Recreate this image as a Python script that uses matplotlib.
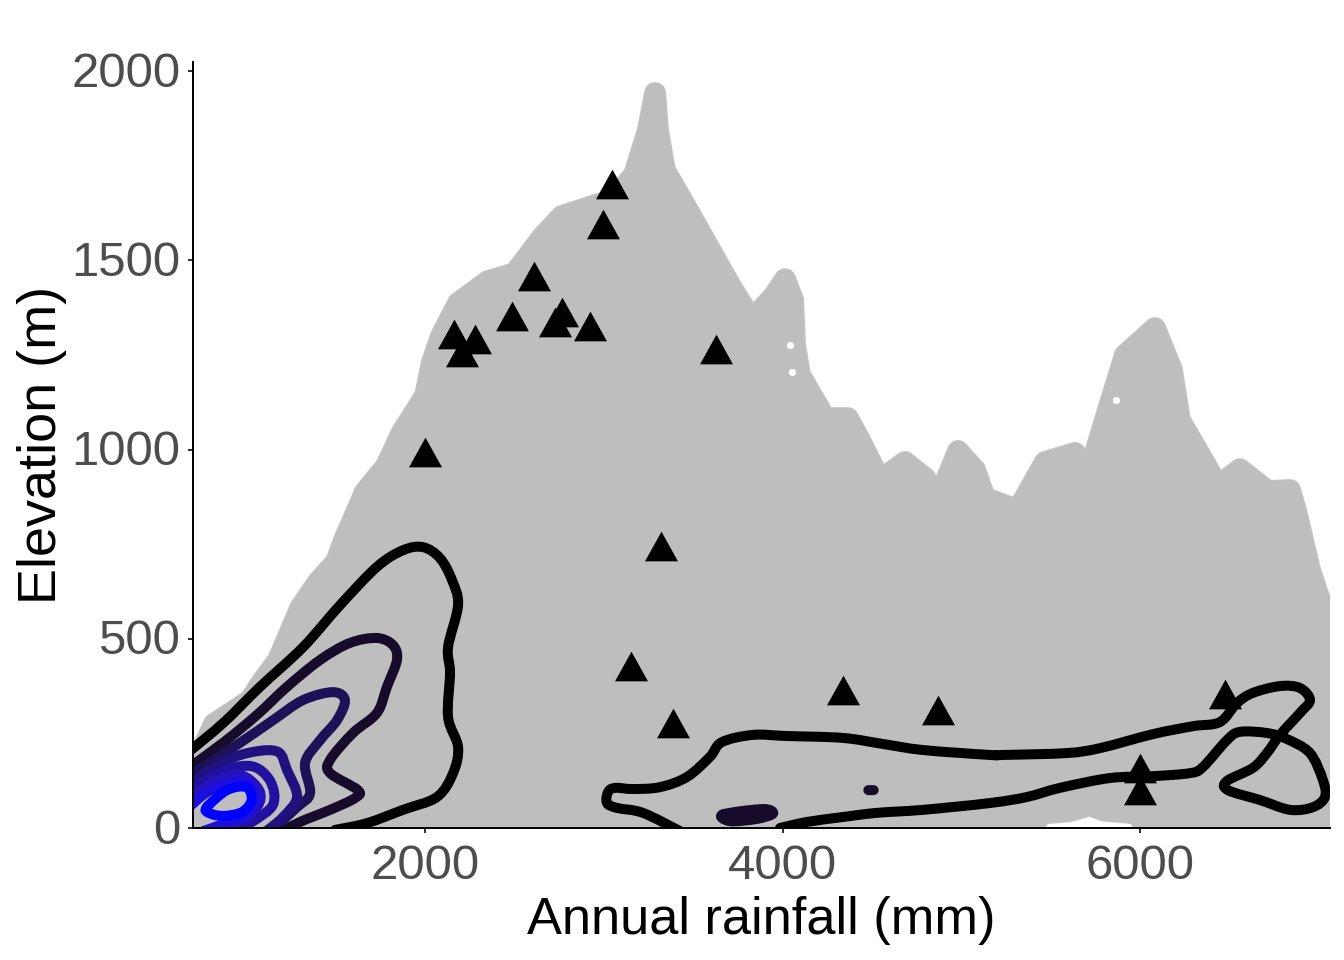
import matplotlib
matplotlib.use("Agg")
import matplotlib.pyplot as plt
from matplotlib.path import Path
from matplotlib.patches import PathPatch
from matplotlib.transforms import ScaledTranslation

plt.rcParams['font.family'] = ['Liberation Sans', 'DejaVu Sans']

# Outline of the outermost grey points (point centres): rainfall, elevation
cloud_rain = [462, 820, 920, 1021, 1088, 1178, 1245, 1301, 1401, 1502, 1552, 1664, 1782, 1871, 2000,
              2039, 2090, 2185, 2352, 2503, 2660, 2766, 2934, 3046, 3169, 3247, 3287, 3303, 3342,
              3454, 3566, 3706, 3829, 3952, 4014, 4059, 4070, 4098, 4238, 4366, 4433, 4545, 4685,
              4797, 4870, 4982, 5077, 5133, 5317, 5468, 5636, 5720, 5804, 5916, 6084, 6179, 6223,
              6436, 6559, 6716, 6839, 6872, 6951, 7007, 7146, 7146, 6084, 5990, 5800, 5720, 5600, 5440, 5356]
cloud_elev = [-85, 275, 306, 338, 386, 444, 518, 581, 650, 703, 766, 888, 956, 1046, 1141,
              1231, 1300, 1387, 1445, 1466, 1564, 1617, 1643, 1659, 1725, 1844, 1942, 1844, 1738,
              1646, 1553, 1435, 1342, 1406, 1450, 1395, 1276, 1197, 1083, 1083, 1025, 919, 967,
              925, 867, 996, 946, 872, 840, 967, 991, 946, 1078, 1250, 1321, 1210, 1078,
              904, 948, 890, 893, 840, 682, 602, 549, -85, -58, 38, 46, 60, 44, 38, -58]

# Small gaps inside the point cloud
gap_rain = [4042, 4053, 5866]
gap_elev = [1276, 1205, 1130]

# Sites (triangles)
site_rain = [3046, 2996, 2610, 2487, 2766, 2727, 2923, 2162, 2280, 2207, 3628, 2000, 3320, 3152,
             3387, 4338, 4870, 6475, 6000, 6000]
site_elev = [1701, 1596, 1458, 1353, 1363, 1337, 1326, 1305, 1292, 1258, 1266, 993, 745, 428,
             277, 365, 312, 354, 159, 100]

# Density contours, outermost to innermost
c1_x = [657, 870, 1077, 1318, 1525, 1731, 1877, 1989, 2084, 2151, 2185, 2129, 2140, 2129, 2185,
        2157, 2067, 1877, 1676, 1497]
c1_y = [193, 277, 373, 478, 589, 690, 734, 742, 713, 655, 589, 478, 410, 293, 214,
        145, 82, 48, 13, -5]
c1b_x = [3426, 3219, 3074, 3018, 3024, 3063, 3164, 3315, 3466, 3594, 3661, 3835, 4025, 4338, 4562,
         4786, 5161, 5233, 5591, 5776, 6072, 6296, 6447, 6542, 6632, 6783, 6895, 6951, 6895, 6783,
         6710, 6632, 6486, 6492, 6671, 6839, 6967, 7035, 7023, 6951, 6822, 6710, 6559, 6486, 6352,
         6279, 6072, 5832, 5552, 5368, 5161, 4786, 4528, 4338, 4137, 3986]
c1b_y = [-8, 40, 53, 66, 95, 106, 103, 108, 135, 188, 227, 246, 243, 238, 222,
         206, 193, 193, 198, 211, 248, 269, 280, 330, 357, 375, 370, 338, 304, 246,
         198, 159, 124, 100, 74, 48, 55, 82, 127, 198, 235, 251, 254, 232, 161,
         145, 137, 132, 106, 82, 66, 48, 40, 29, 16, 0]
c2_x = [646, 870, 1060, 1228, 1413, 1580, 1731, 1821, 1843, 1787, 1731, 1597, 1469, 1469, 1625,
        1608, 1469, 1301, 1189]
c2_y = [148, 225, 299, 373, 444, 489, 502, 483, 444, 373, 304, 251, 180, 145, 100,
        79, 48, 16, -11]
c2b_x = [3667, 3891, 3947, 3857, 3706, 3667]
c2b_y = [36, 50, 38, 24, 18, 36]
c2c_x = [4480, 4510]
c2c_y = [100, 100]
c3_x = [646, 965, 1150, 1318, 1485, 1552, 1508, 1413, 1329, 1357, 1284, 1144]
c3_y = [127, 225, 285, 338, 359, 338, 285, 232, 172, 92, 55, -5]
c4_x = [646, 870, 1038, 1178, 1228, 1284, 1206, 1105]
c4_y = [106, 174, 201, 201, 153, 82, 29, -11]
c5_x = [646, 825, 1021, 1133, 1150, 1032, 920]
c5_y = [80, 142, 164, 125, 62, 16, -11]
c6_x = [646, 808, 965, 1072, 1060, 937, 769]
c6_y = [58, 118, 140, 100, 55, 10, -11]
c65_x = [646, 800, 985, 1050, 1010, 890, 760]
c65_y = [40, 100, 122, 88, 38, 14, -8]
c7_x = [780, 892, 1000, 1030, 976, 870, 790, 780]
c7_y = [55, 100, 108, 74, 42, 32, 40, 55]

x_ticks = [2000, 4000, 6000]
y_ticks = [0, 500, 1000, 1500, 2000]
x_label = "Annual rainfall (mm)"
y_label = "Elevation (m)"

GREY = '#BEBEBE'
RIM = '#C6C6C6'
TICK = '#4D4D4D'


def smooth_path(xs, ys):
    """Catmull-Rom drawn as cubic Beziers: a smooth stroke through the points."""
    pts = list(zip(xs, ys))
    closed = pts[0] == pts[-1]
    n = len(pts)
    verts = [pts[0]]
    codes = [Path.MOVETO]
    for i in range(n - 1):
        if closed:
            p0 = pts[i - 1] if i > 0 else pts[n - 2]
            p3 = pts[i + 2] if i + 2 < n else pts[1]
        else:
            p0 = pts[max(i - 1, 0)]
            p3 = pts[min(i + 2, n - 1)]
        p1, p2 = pts[i], pts[i + 1]
        c1 = (p1[0] + (p2[0] - p0[0]) / 6, p1[1] + (p2[1] - p0[1]) / 6)
        c2 = (p2[0] - (p3[0] - p1[0]) / 6, p2[1] - (p3[1] - p1[1]) / 6)
        verts += [c1, c2, p2]
        codes += [Path.CURVE4] * 3
    return Path(verts, codes)


fig = plt.figure(figsize=(14, 10), dpi=96, facecolor='white')
ax = fig.add_axes([193 / 1344, 1 - 828 / 960, (1330 - 193) / 1344, (828 - 62) / 960])
ax.set_xlim(702, 7063)
ax.set_ylim(0, 2024)

ax.fill(cloud_rain, cloud_elev, facecolor=GREY, edgecolor=RIM, linewidth=16.5,
        joinstyle='round', zorder=1)
ax.fill(cloud_rain, cloud_elev, facecolor=GREY, edgecolor=GREY, linewidth=15,
        joinstyle='round', zorder=1.1)
ax.scatter(gap_rain, gap_elev, s=30, color='white', linewidths=0, zorder=1.2)

tri = [(-1, -0.9), (1, -0.9), (0, 0.9)]
ax.scatter(site_rain, site_elev, marker=tri, s=612, color='black', linewidths=0, zorder=3)

contours = [
    (c1_x, c1_y, '#000000'), (c1b_x, c1b_y, '#000000'),
    (c2_x, c2_y, '#170B2B'), (c2b_x, c2b_y, '#170B2B'), (c2c_x, c2c_y, '#170B2B'),
    (c3_x, c3_y, '#1D1158'), (c4_x, c4_y, '#20117F'), (c5_x, c5_y, '#22119F'),
    (c6_x, c6_y, '#2412BF'), (c65_x, c65_y, '#1C0EDC'), (c7_x, c7_y, '#0000FF'),
]
for cx, cy, col in contours:
    ax.add_patch(PathPatch(smooth_path(cx, cy), fill=False, edgecolor=col, lw=7.5,
                           joinstyle='round', capstyle='round', zorder=4))

for s in ['top', 'right']:
    ax.spines[s].set_visible(False)
for s in ['left', 'bottom']:
    ax.spines[s].set_linewidth(1.5)
    ax.spines[s].set_color('black')
    ax.spines[s].set_zorder(6)

ax.set_xticks(x_ticks)
ax.set_yticks(y_ticks)
ax.tick_params(axis='both', length=3.5, width=1.5, color='#333333', labelcolor=TICK, labelsize=36.8)
ax.tick_params(axis='x', pad=8.5)
ax.tick_params(axis='y', pad=6)
for lab in ax.get_yticklabels():
    lab.set_transform(lab.get_transform() + ScaledTranslation(0, 2 / 96, fig.dpi_scale_trans))
ax.set_xlabel(x_label, fontsize=39.3, color='black', labelpad=5)
ax.set_ylabel(y_label, fontsize=40.5, color='black', labelpad=3.5)

fig.savefig('out.png', dpi=96, facecolor='white')
